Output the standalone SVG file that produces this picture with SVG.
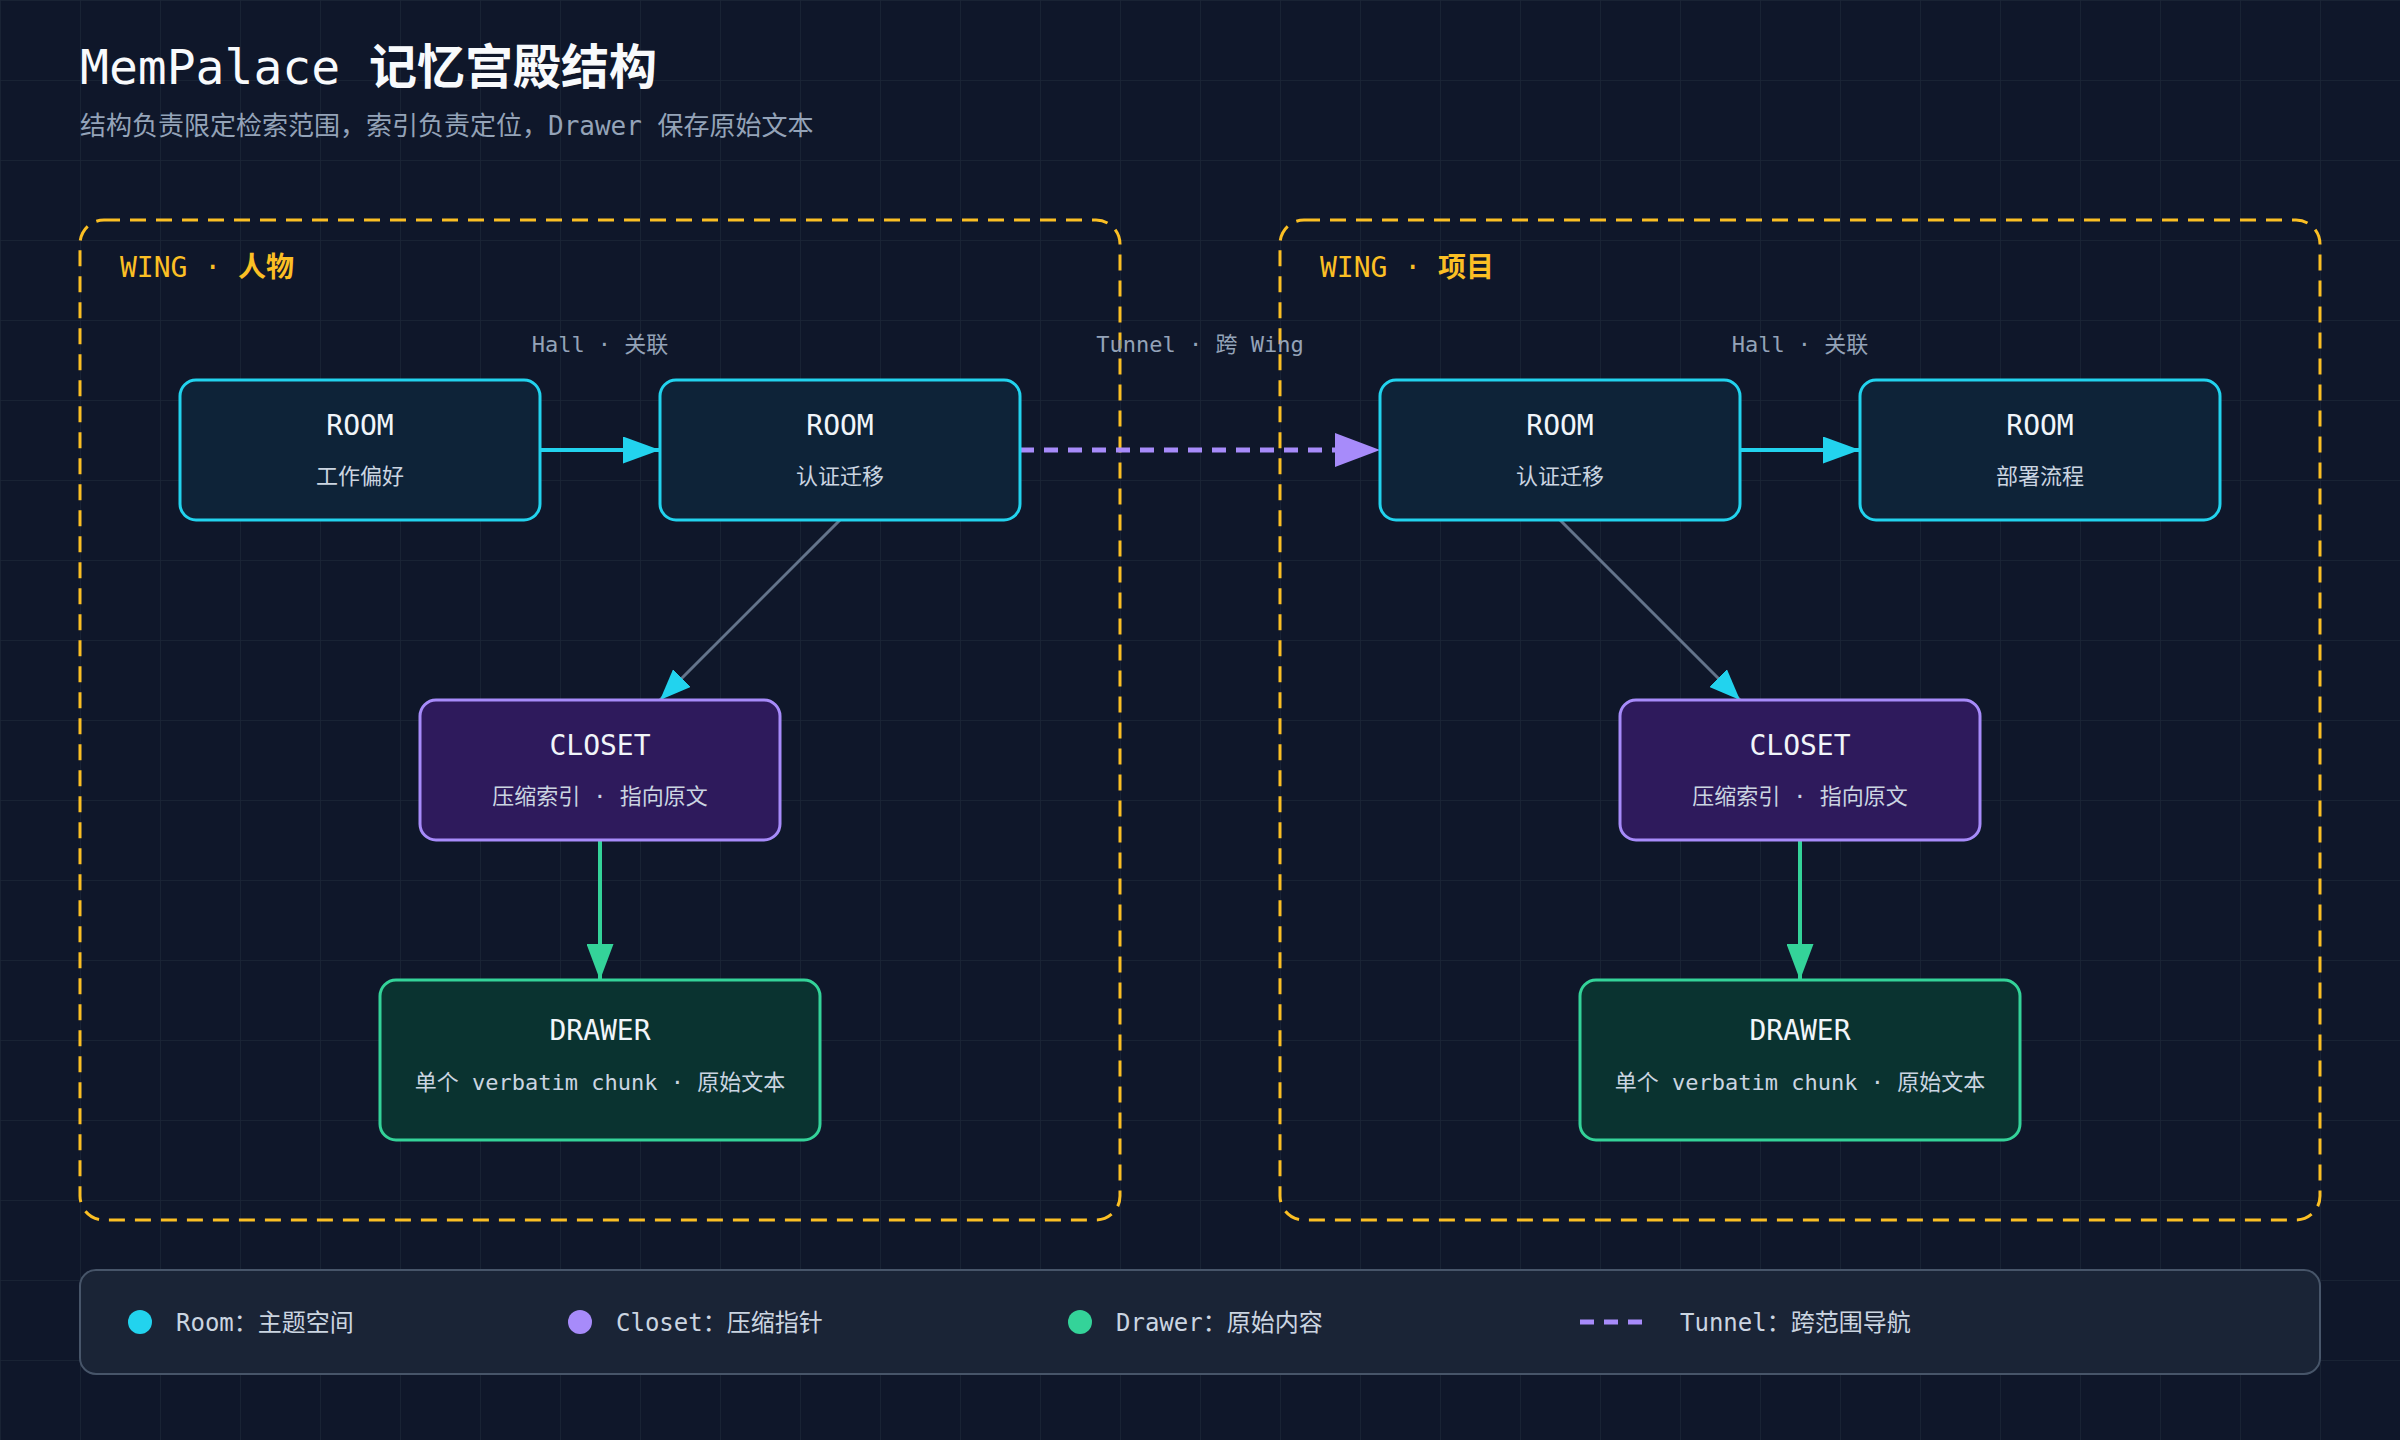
<svg xmlns="http://www.w3.org/2000/svg" width="2400" height="1440" viewBox="0 0 2400 1440">
<defs>
<pattern id="grid" width="80" height="80" patternUnits="userSpaceOnUse">
<path d="M80 0 L0 0 L0 80" fill="none" stroke="#1c2638" stroke-width="1.5"/>
</pattern>
<marker id="arrCyan" markerUnits="userSpaceOnUse" markerWidth="37" markerHeight="27" viewBox="0 0 37 27" refX="37" refY="13.5" orient="auto"><path d="M0,0 L37,13.5 L0,27 Z" fill="#22d3ee"/></marker>
<marker id="arrCyanS" markerUnits="userSpaceOnUse" markerWidth="31" markerHeight="25" viewBox="0 0 31 25" refX="31" refY="12.5" orient="auto"><path d="M0,0 L31,12.5 L0,25 Z" fill="#22d3ee"/></marker>
<marker id="arrGreen" markerUnits="userSpaceOnUse" markerWidth="36" markerHeight="27" viewBox="0 0 36 27" refX="36" refY="13.5" orient="auto"><path d="M0,0 L36,13.5 L0,27 Z" fill="#34d399"/></marker>
<marker id="arrPurple" markerUnits="userSpaceOnUse" markerWidth="45" markerHeight="34" viewBox="0 0 45 34" refX="45" refY="17" orient="auto"><path d="M0,0 L45,17 L0,34 Z" fill="#a78bfa"/></marker>
</defs>
<style>
.mono{font-family:"DejaVu Sans Mono","Noto Sans CJK SC",monospace}
.wing{fill:none;stroke:#fbbf24;stroke-width:3;stroke-dasharray:16 10}
.wlabel{font-size:28px;fill:#fbbf24}
.room rect{fill:#0e2338;stroke:#22d3ee;stroke-width:3}
.closet rect{fill:#2e1a5c;stroke:#a78bfa;stroke-width:3}
.drawer rect{fill:#0a3330;stroke:#34d399;stroke-width:3}
.ttl{font-size:28px;fill:#f1f5f9;text-anchor:middle}
.sub{font-size:22px;fill:#cbd5e1;text-anchor:middle}
.elabel{font-size:22px;fill:#94a3b8;text-anchor:middle}
.leg{font-size:24px;fill:#cbd5e1}
</style>
<rect width="2400" height="1440" fill="#0f172a"/>
<rect width="2400" height="1440" fill="url(#grid)"/>

<g id="title" class="mono">
<text x="80" y="84" font-size="48" fill="#f8fafc">MemPalace <tspan font-weight="700">记忆宫殿结构</tspan></text>
<text x="80" y="135" font-size="26" fill="#94a3b8">结构负责限定检索范围，索引负责定位，Drawer 保存原始文本</text>
</g>

<g id="wing-people">
<rect class="wing" x="80" y="220" width="1040" height="1000" rx="24"/>
<text class="mono wlabel" x="120" y="277">WING · <tspan font-weight="700">人物</tspan></text>
</g>
<g id="wing-project">
<rect class="wing" x="1280" y="220" width="1040" height="1000" rx="24"/>
<text class="mono wlabel" x="1320" y="277">WING · <tspan font-weight="700">项目</tspan></text>
</g>

<g id="connectors" fill="none">
<line x1="540" y1="450" x2="660" y2="450" stroke="#22d3ee" stroke-width="4" marker-end="url(#arrCyan)"/>
<line x1="1740" y1="450" x2="1860" y2="450" stroke="#22d3ee" stroke-width="4" marker-end="url(#arrCyan)"/>
<line x1="840" y1="520" x2="660" y2="700" stroke="#64748b" stroke-width="3" marker-end="url(#arrCyanS)"/>
<line x1="1560" y1="520" x2="1740" y2="700" stroke="#64748b" stroke-width="3" marker-end="url(#arrCyanS)"/>
<line x1="600" y1="840" x2="600" y2="980" stroke="#34d399" stroke-width="4" marker-end="url(#arrGreen)"/>
<line x1="1800" y1="840" x2="1800" y2="980" stroke="#34d399" stroke-width="4" marker-end="url(#arrGreen)"/>
<line x1="1020" y1="450" x2="1380" y2="450" stroke="#a78bfa" stroke-width="5" stroke-dasharray="14 10" marker-end="url(#arrPurple)"/>
<text class="mono elabel" x="600" y="352">Hall · 关联</text>
<text class="mono elabel" x="1800" y="352">Hall · 关联</text>
<text class="mono elabel" x="1200" y="352">Tunnel · 跨 Wing</text>
</g>

<g id="room-work-pref" class="room mono">
<rect x="180" y="380" width="360" height="140" rx="16"/>
<text class="ttl" x="360" y="435">ROOM</text>
<text class="sub" x="360" y="484">工作偏好</text>
</g>
<g id="room-auth-people" class="room mono">
<rect x="660" y="380" width="360" height="140" rx="16"/>
<text class="ttl" x="840" y="435">ROOM</text>
<text class="sub" x="840" y="484">认证迁移</text>
</g>
<g id="room-auth-project" class="room mono">
<rect x="1380" y="380" width="360" height="140" rx="16"/>
<text class="ttl" x="1560" y="435">ROOM</text>
<text class="sub" x="1560" y="484">认证迁移</text>
</g>
<g id="room-deploy" class="room mono">
<rect x="1860" y="380" width="360" height="140" rx="16"/>
<text class="ttl" x="2040" y="435">ROOM</text>
<text class="sub" x="2040" y="484">部署流程</text>
</g>

<g id="closet-people" class="closet mono">
<rect x="420" y="700" width="360" height="140" rx="16"/>
<text class="ttl" x="600" y="755">CLOSET</text>
<text class="sub" x="600" y="804">压缩索引 · 指向原文</text>
</g>
<g id="closet-project" class="closet mono">
<rect x="1620" y="700" width="360" height="140" rx="16"/>
<text class="ttl" x="1800" y="755">CLOSET</text>
<text class="sub" x="1800" y="804">压缩索引 · 指向原文</text>
</g>

<g id="drawer-people" class="drawer mono">
<rect x="380" y="980" width="440" height="160" rx="16"/>
<text class="ttl" x="600" y="1040">DRAWER</text>
<text class="sub" x="600" y="1090">单个 verbatim chunk · 原始文本</text>
</g>
<g id="drawer-project" class="drawer mono">
<rect x="1580" y="980" width="440" height="160" rx="16"/>
<text class="ttl" x="1800" y="1040">DRAWER</text>
<text class="sub" x="1800" y="1090">单个 verbatim chunk · 原始文本</text>
</g>

<g id="legend" class="mono">
<rect x="80" y="1270" width="2240" height="104" rx="16" fill="#1a2436" stroke="#475569" stroke-width="2"/>
<circle cx="140" cy="1322" r="12" fill="#22d3ee"/>
<text class="leg" x="176" y="1331">Room：主题空间</text>
<circle cx="580" cy="1322" r="12" fill="#a78bfa"/>
<text class="leg" x="616" y="1331">Closet：压缩指针</text>
<circle cx="1080" cy="1322" r="12" fill="#34d399"/>
<text class="leg" x="1116" y="1331">Drawer：原始内容</text>
<line x1="1580" y1="1322" x2="1642" y2="1322" stroke="#a78bfa" stroke-width="5" stroke-dasharray="14 10"/>
<text class="leg" x="1680" y="1331">Tunnel：跨范围导航</text>
</g>
</svg>
